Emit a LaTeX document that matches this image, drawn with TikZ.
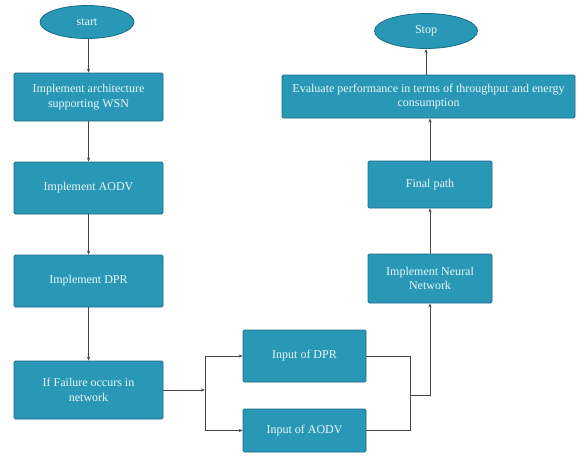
\documentclass[tikz,border=0pt]{standalone}
\usepackage{fontspec}
\setmainfont{Liberation Serif}
\usetikzlibrary{shapes.geometric,arrows.meta,calc}
\definecolor{boxfill}{RGB}{40,152,182}
\definecolor{boxline}{RGB}{28,108,135}
\definecolor{boxtext}{RGB}{236,246,249}
\definecolor{linec}{RGB}{70,70,70}
\tikzset{
  stepbox/.style={rectangle, fill=boxfill, draw=boxline, line width=0.8pt, rounded corners=1.5pt,
    text=boxtext, align=center, font=\fontsize{12}{14.5}\selectfont, inner sep=2pt},
  term/.style={ellipse, fill=boxfill, draw=boxline, line width=0.8pt, text=boxtext,
    font=\fontsize{12}{14.5}\selectfont, inner sep=0pt},
  conn/.style={draw=linec, line width=0.7pt, -{Stealth[length=4pt,width=3.2pt]}},
  plain/.style={draw=linec, line width=0.7pt}
}
\begin{document}
\begin{tikzpicture}[x=1pt,y=-1pt]
\useasboundingbox (0,0) rectangle (586,456);
\node[term, minimum width=94pt, minimum height=33pt] (start) at (87,22) {start};
\node[stepbox, minimum width=149pt, minimum height=48pt] (b1) at (88.5,97) {Implement architecture\\supporting WSN};
\node[stepbox, minimum width=149pt, minimum height=52pt] (b2) at (88.5,188) {Implement AODV};
\node[stepbox, minimum width=149pt, minimum height=52pt] (b3) at (88.5,281) {Implement DPR};
\node[stepbox, minimum width=149pt, minimum height=58pt] (b4) at (88.5,390) {If Failure occurs in\\network};
\node[stepbox, minimum width=123pt, minimum height=52pt] (dpr) at (304.5,356) {Input of DPR};
\node[stepbox, minimum width=123pt, minimum height=43pt] (aodv) at (304.5,430.5) {Input of AODV};
\node[stepbox, minimum width=124pt, minimum height=49pt] (nn) at (430,278.5) {Implement Neural\\Network};
\node[stepbox, minimum width=124pt, minimum height=47pt] (fp) at (430,184.5) {Final path};
\node[stepbox, minimum width=293pt, minimum height=43pt] (ev) at (428.5,96.5) {Evaluate performance in terms of throughput and energy\\consumption};
\node[term, minimum width=103pt, minimum height=35pt] (stop) at (426,31) {Stop};

\coordinate (j) at (205,390);
\coordinate (m) at (410,395);

\draw[conn] (b1.north |- start.south) -- (b1.north);
\draw[conn] (b1) -- (b2);
\draw[conn] (b2) -- (b3);
\draw[conn] (b3) -- (b4);
\draw[conn] (b4.east) -- (j);
\draw[conn] (j) |- (dpr.west);
\draw[conn] (j) |- (aodv.west);
\draw[plain] (dpr.east) -| (m);
\draw[plain] (aodv.east) -| (m);
\draw[conn] (m) -| (nn.south);
\draw[conn] (nn) -- (fp);
\draw[conn] (fp.north) -- (fp.north |- ev.south);
\draw[conn] (stop.south |- ev.north) -- (stop.south);
\end{tikzpicture}
\end{document}
